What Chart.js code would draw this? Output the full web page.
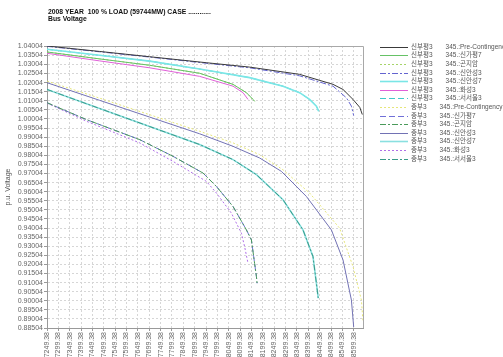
<!DOCTYPE html>
<html>
<head>
<meta charset="utf-8">
<script src="https://cdn.jsdelivr.net/npm/chart.js@4.4.1/dist/chart.umd.min.js"></script>
<style>
  body { margin: 0; background: #fff; }
</style>
</head>
<body>
<canvas id="volt" width="503" height="357"></canvas>
<script>
// tick labels
const xTicks = [7249.38, 7299.38, 7349.38, 7399.38, 7449.38, 7499.38, 7549.38, 7599.38, 7649.38, 7699.38,
  7749.38, 7799.38, 7849.38, 7899.38, 7949.38, 7999.38, 8049.38, 8099.38, 8149.38, 8199.38,
  8249.38, 8299.38, 8349.38, 8399.38, 8449.38, 8499.38, 8549.38, 8599.38];
const yTicks = [1.04004, 1.03504, 1.03004, 1.02504, 1.02004, 1.01504, 1.01004, 1.00504, 1.00004,
  0.99504, 0.99004, 0.98504, 0.98004, 0.97504, 0.97004, 0.96504, 0.96004, 0.95504, 0.95004,
  0.94504, 0.94004, 0.93504, 0.93004, 0.92504, 0.92004, 0.91504, 0.91004, 0.90504, 0.90004,
  0.89504, 0.89004, 0.88504];

// 신부평3 bus
const sbpPreX = [7249.38, 7481, 7701, 7951, 8141, 8361, 8508, 8552, 8596, 8626, 8637];
const sbpPreY = [1.0402, 1.0372, 1.0343, 1.0310, 1.0286, 1.0246, 1.0191, 1.0163, 1.0108, 1.0064, 1.0025];
const sbpGapyeongX = [7249.38, 7481, 7701, 7921, 8068, 8127, 8156, 8163];
const sbpGapyeongY = [1.0369, 1.0331, 1.0296, 1.0252, 1.0191, 1.0145, 1.0108, 1.0098];
const sbpGonjiamX = sbpGapyeongX;   // overlaps 신가평7 in the picture
const sbpGonjiamY = sbpGapyeongY;
const sbpAnseong3X = [7249.38, 7481, 7701, 7951, 8141, 8361, 8508, 8567, 8589, 8599];
const sbpAnseong3Y = [1.0400, 1.0370, 1.0341, 1.0307, 1.0282, 1.0238, 1.0181, 1.0117, 1.0071, 1.0019];
const sbpAnseong7X = [7249.38, 7481, 7701, 7921, 8141, 8288, 8361, 8405, 8435, 8445];
const sbpAnseong7Y = [1.0384, 1.0351, 1.0319, 1.0275, 1.0228, 1.0181, 1.0145, 1.0108, 1.0071, 1.0043];
const sbpHwaseongX = [7249.38, 7481, 7701, 7921, 8068, 8112, 8134];
const sbpHwaseongY = [1.0362, 1.0320, 1.0282, 1.0235, 1.0181, 1.0145, 1.0108];
const sbpSeoseoulX = sbpAnseong7X;
const sbpSeoseoulY = sbpAnseong7Y;

// 중부3 bus
const jbPreX = [7249.38, 7481, 7701, 7921, 8068, 8185, 8288, 8405, 8537, 8596, 8633, 8640];
const jbPreY = [1.0209, 1.0115, 1.0024, 0.9933, 0.9869, 0.9804, 0.9721, 0.9593, 0.9400, 0.9188, 0.9004, 0.8884];
const jbGonjiamX = [7249.38, 7423, 7657, 7804, 7936, 7995, 8068, 8127, 8149, 8163, 8171, 8174];
const jbGonjiamY = [1.0090, 0.9997, 0.9887, 0.9795, 0.9703, 0.9629, 0.9519, 0.9390, 0.9335, 0.9206, 0.9133, 0.9096];
const jbGapyeongX = jbGonjiamX;
const jbGapyeongY = jbGonjiamY;
const jbAnseong3X = [7249.38, 7481, 7701, 7921, 8068, 8185, 8281, 8391, 8501, 8552, 8589, 8599];
const jbAnseong3Y = [1.0200, 1.0103, 1.0011, 0.9919, 0.9850, 0.9786, 0.9712, 0.9574, 0.9390, 0.9225, 0.9004, 0.8856];
const jbSeoseoulX = [7249.38, 7481, 7701, 7921, 8068, 8171, 8288, 8376, 8420, 8435, 8443];
const jbSeoseoulY = [1.0163, 1.0058, 0.9959, 0.9860, 0.9777, 0.9694, 0.9556, 0.9390, 0.9243, 0.9096, 0.9015];
const jbAnseong7X = jbSeoseoulX;
const jbAnseong7Y = jbSeoseoulY;
const jbHwaseongX = [7249.38, 7423, 7657, 7804, 7951, 7995, 8061, 8105, 8119, 8134];
const jbHwaseongY = [1.0088, 0.9988, 0.9869, 0.9767, 0.9657, 0.9593, 0.9482, 0.9372, 0.9298, 0.9206];

const busNames = ['신부평3', '신부평3', '신부평3', '신부평3', '신부평3', '신부평3', '신부평3',
  '중부3', '중부3', '중부3', '중부3', '중부3', '중부3', '중부3'];
const cases = ['345.:Pre-Contingency', '345.:신가평7', '345.:곤지암', '345.:신안성3', '345.:신안성7', '345.:화성3', '345.:서서울3',
  '345.:Pre-Contingency', '345.:신가평7', '345.:곤지암', '345.:신안성3', '345.:신안성7', '345.:화성3', '345.:서서울3'];

const FONT = '"Liberation Sans", Arial, "Noto Sans CJK KR", sans-serif';
Chart.defaults.font.family = FONT;

const DOT = [2, 2], DASH = [6, 3], DASHDOT = [6, 2, 2, 2];

// style per line: colour, width, dash, draw order
const styles = [
  ['#3a3a3a', 1, [], 0],
  ['#66c266', 1, [], 0],
  ['#a6d46a', 1, DOT, 1],
  ['#6464d0', 1, DASHDOT, 0],
  ['#7ae6e6', 1.6, [], 0],
  ['#e060d8', 1, [], 0],
  ['#40c8c8', 1, DASH, 1],
  ['#e6e67a', 1, DOT, 0],
  ['#7070d8', 1, DASH, 1],
  ['#4a9a5a', 1, DASHDOT, 0],
  ['#7272b4', 1, [], 0],
  ['#8ae0e0', 1.6, [], 1],
  ['#b070e8', 1, DOT, 0],
  ['#3a9a88', 1, DASHDOT, 0]
];

const xs = [sbpPreX, sbpGapyeongX, sbpGonjiamX, sbpAnseong3X, sbpAnseong7X, sbpHwaseongX, sbpSeoseoulX,
  jbPreX, jbGapyeongX, jbGonjiamX, jbAnseong3X, jbAnseong7X, jbHwaseongX, jbSeoseoulX];
const ys = [sbpPreY, sbpGapyeongY, sbpGonjiamY, sbpAnseong3Y, sbpAnseong7Y, sbpHwaseongY, sbpSeoseoulY,
  jbPreY, jbGapyeongY, jbGonjiamY, jbAnseong3Y, jbAnseong7Y, jbHwaseongY, jbSeoseoulY];

let datasets = [];
for (let i = 0; i < xs.length; i++) {
  datasets.push({
    label: busNames[i] + ' ' + cases[i],
    data: xs[i].map((v, k) => ({x: v, y: ys[i][k]})),
    borderColor: styles[i][0],
    borderWidth: styles[i][1],
    borderDash: styles[i][2],
    order: styles[i][3],
    pointRadius: 0,
    fill: false,
    tension: 0
  });
}

// title, plot frame and side legend
const decor = {
  id: 'decor',
  beforeDatasetsDraw(chart) {
    const c = chart.ctx, a = chart.chartArea;
    c.save();
    c.strokeStyle = '#a8a8a8';
    c.lineWidth = 1;
    c.beginPath();
    c.moveTo(a.left, a.top + 0.5);
    c.lineTo(a.right + 0.5, a.top + 0.5);
    c.lineTo(a.right + 0.5, a.bottom);
    c.stroke();
    c.restore();
  },
  afterDraw(chart) {
    const c = chart.ctx, a = chart.chartArea;
    c.save();
    c.fillStyle = '#111';
    c.font = 'bold 6.8px ' + FONT;
    c.textBaseline = 'middle';
    c.fillText('2008 YEAR  100 % LOAD (59744MW) CASE ............', a.left + 1, 12);
    c.fillText('Bus Voltage', a.left + 1, 19);

    c.font = '6.5px ' + FONT;
    c.fillStyle = '#555';
    chart.data.datasets.forEach((ds, i) => {
      const y = Math.round(46.7 + i * 8.6) + 0.5;
      c.strokeStyle = ds.borderColor;
      c.lineWidth = ds.borderWidth;
      c.setLineDash(ds.borderDash);
      c.beginPath();
      c.moveTo(380, y);
      c.lineTo(408, y);
      c.stroke();
      c.fillText(busNames[i], 411, y);
      const w = c.measureText(busNames[i]).width;
      c.fillText(cases[i], 411 + w + 13, y);
    });
    c.restore();
  }
};

const ctx = document.getElementById('volt').getContext('2d');
new Chart(ctx, {
  type: 'line',
  data: {datasets: datasets},
  options: {
    responsive: false,
    animation: false,
    devicePixelRatio: 1,
    layout: {padding: {top: 46, right: 140, left: 0, bottom: 0}},
    plugins: {
      legend: {display: false},
      tooltip: {enabled: false},
      title: {display: false}
    },
    scales: {
      x: {
        type: 'linear',
        min: 7249.38,
        max: 8640,
        afterBuildTicks: s => { s.ticks = xTicks.map(v => ({value: v})); },
        afterFit: s => { s.height = 29; },
        ticks: {
          autoSkip: false, minRotation: 90, maxRotation: 90, padding: 1,
          font: {size: 7}, color: '#666',
          callback: v => Number(v).toFixed(2)
        },
        grid: {color: '#d6d6d6', tickLength: 3, tickColor: '#999'},
        border: {color: '#999', dash: [2, 2]}
      },
      y: {
        min: 0.88504,
        max: 1.0402,
        afterBuildTicks: s => { s.ticks = yTicks.map(v => ({value: v})); },
        afterFit: s => { s.width = 47; },
        ticks: {
          autoSkip: false, padding: 1,
          font: {size: 7}, color: '#666',
          callback: v => Number(v).toFixed(5)
        },
        grid: {color: '#d6d6d6', tickLength: 3, tickColor: '#999'},
        border: {color: '#999', dash: [2, 2]},
        title: {display: true, text: 'p.u. Voltage', font: {size: 7}, color: '#555', padding: {top: 4, bottom: 0}}
      }
    }
  },
  plugins: [decor]
});
</script>
</body>
</html>
